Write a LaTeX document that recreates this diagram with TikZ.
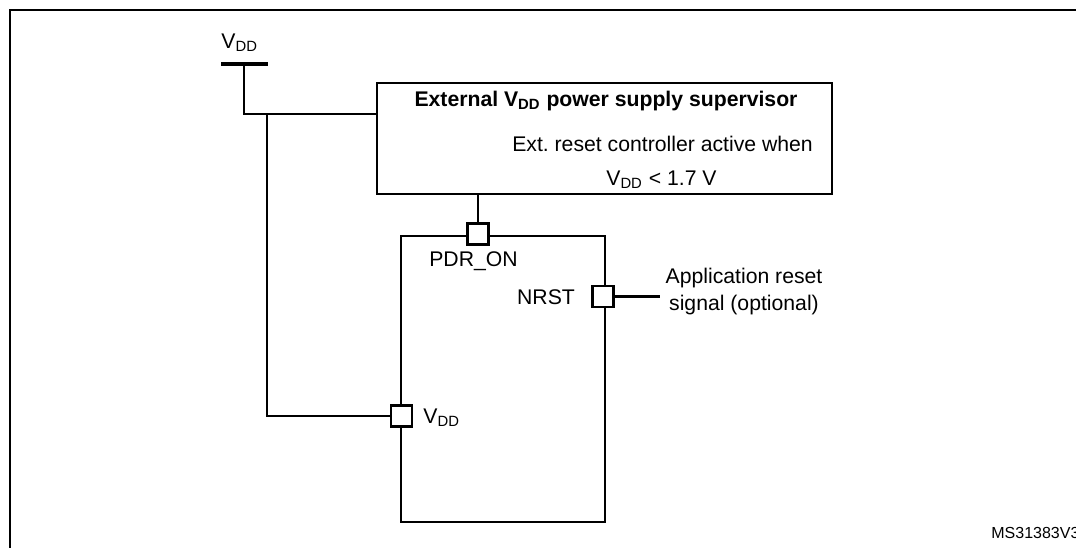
\documentclass[tikz,border=0pt]{standalone}
\usepackage{fontspec}
\setmainfont{Liberation Sans}
\newcommand{\vdd}{V\textsubscript{DD}}
\frenchspacing
\begin{document}
\begin{tikzpicture}[x=0.5pt,y=-0.5pt,
  wire/.style={line width=1.2pt},
  box/.style={draw,line width=1.3pt,fill=white,rectangle,inner sep=0pt},
  pinbox/.style={draw,line width=1.2pt,fill=white,rectangle,minimum width=10.5pt,minimum height=10.5pt,inner sep=0pt},
  lbl/.style={inner sep=0pt,font=\fontsize{10.6pt}{13.5pt}\selectfont}]
\useasboundingbox (0,0) rectangle (1076,547);
\clip (0,0) rectangle (1076,547);
% outer frame
\draw[line width=1.2pt] (10,560) -- (10,10) -- (1090,10);
% supply bar
\coordinate (barL) at (221,64);
\coordinate (barR) at (268,64);
\coordinate (barC) at (244,64);
\draw[line width=2.3pt] (barL) -- (barR);
\node[lbl,anchor=west] (vddtop) at (221,43) {\vdd};
% supervisor box
\node[box,minimum width=227.5pt,minimum height=55.5pt] (sup) at (604.5,138.5) {};
\node[lbl,font=\fontsize{10.6pt}{13.5pt}\selectfont\bfseries] (suptitle) at (606,101) {External \vdd\ power supply supervisor};
\node[lbl] (supl1) at (662.5,144) {Ext. reset controller active when};
\node[lbl] (supl2) at (661.5,180) {\vdd\ < 1.7 V};
% MCU box
\node[box,minimum width=102pt,minimum height=143pt] (mcu) at (503,379) {};
% wires
\coordinate (j1) at (244,114);
\coordinate (j2) at (267,114);
\coordinate (j3) at (267,416);
\coordinate (nrstEnd) at (660,296.5);
\draw[wire] (barC) -- (j1) -- (sup.west |- j1);
\draw[wire] (j2) -- (j3) -- (401.5,416);
\draw[wire] (478,194) -- (478,234);
\draw[wire] (603,296.5) -- (nrstEnd);
% pins
\node[pinbox] (pdr) at (478,234) {};
\node[pinbox] (nrst) at (603,296.5) {};
\node[pinbox] (vddpin) at (401.5,416) {};
% labels
\node[lbl] (pdrl) at (473.5,261) {PDR\_ON};
\node[lbl] (nrstl) at (546,297) {NRST};
\node[lbl,anchor=west] (vddl) at (423,418) {\vdd};
\node[lbl,align=center] (appl) at (744,291.5) {Application reset\\signal (optional)};
\node[inner sep=0pt,anchor=west,font=\fontsize{8pt}{9pt}\selectfont] (ms) at (991,533) {MS31383V3};
\end{tikzpicture}
\end{document}
